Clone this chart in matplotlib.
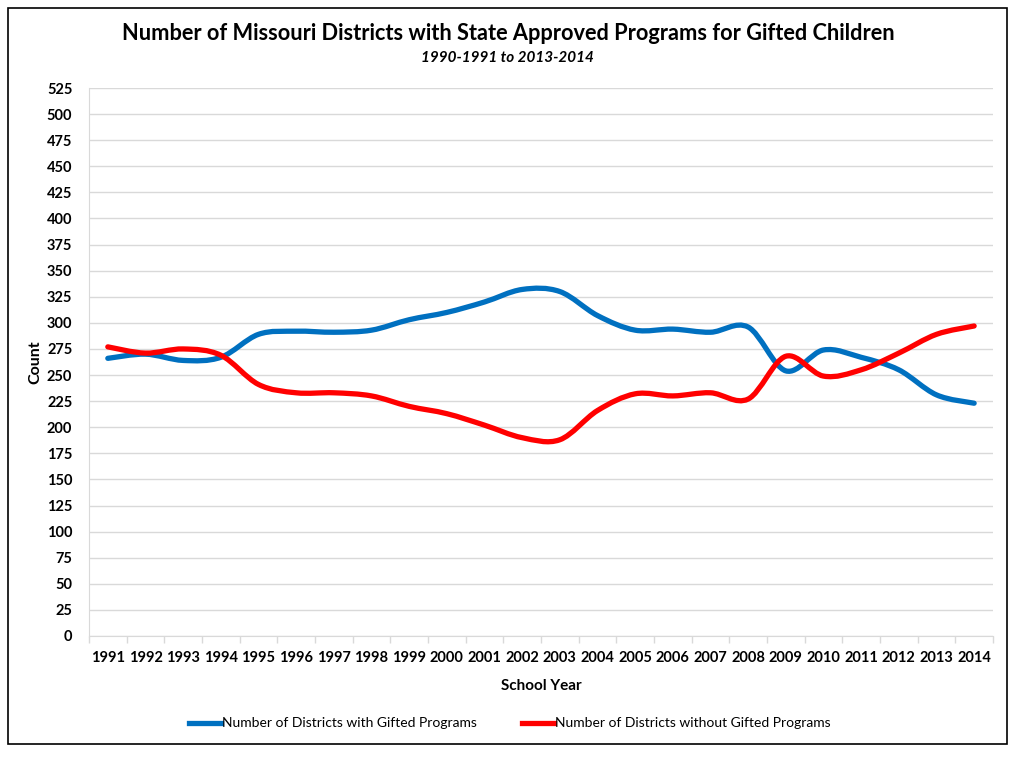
import numpy as np
import matplotlib
matplotlib.use('Agg')
import matplotlib.pyplot as plt
from matplotlib.path import Path
from matplotlib.patches import PathPatch, Rectangle
from matplotlib.lines import Line2D

# school years (end year of each school year)
years = ['1991', '1992', '1993', '1994', '1995', '1996', '1997', '1998', '1999', '2000', '2001', '2002',
         '2003', '2004', '2005', '2006', '2007', '2008', '2009', '2010', '2011', '2012', '2013', '2014']
with_gifted = [266, 270, 264, 267, 289, 292, 291, 293, 303, 310, 320, 332,
               330, 307, 293, 294, 291, 296, 254, 274, 267, 255, 231, 223]
without_gifted = [277, 271, 275, 269, 241, 233, 233, 230, 220, 213, 202, 190,
                  188, 216, 232, 230, 233, 227, 268, 249, 255, 271, 289, 297]
yticks = list(range(0, 526, 25))

plt.rcParams['font.family'] = ['Lato', 'DejaVu Sans']


def smooth_path(xs, ys):
    # excel style smoothed line: cubic bezier through every point
    xs = np.asarray(xs, float)
    ys = np.asarray(ys, float)
    n = len(xs)
    verts = [(xs[0], ys[0])]
    codes = [Path.MOVETO]
    for i in range(n - 1):
        x0, y0 = (xs[i - 1], ys[i - 1]) if i > 0 else (xs[i], ys[i])
        x3, y3 = (xs[i + 2], ys[i + 2]) if i + 2 < n else (xs[i + 1], ys[i + 1])
        c1 = (xs[i] + (xs[i + 1] - x0) / 6, ys[i] + (ys[i + 1] - y0) / 6)
        c2 = (xs[i + 1] - (x3 - xs[i]) / 6, ys[i + 1] - (y3 - ys[i]) / 6)
        verts += [c1, c2, (xs[i + 1], ys[i + 1])]
        codes += [Path.CURVE4] * 3
    return Path(verts, codes)


fig = plt.figure(figsize=(10.24, 7.68), dpi=100)
ax = fig.add_axes([0.0869, 0.1719, 0.8828, 0.7135])

xpos = np.arange(len(years))
blue = '#0070C0'
red = '#FF0000'
for vals, col in [(with_gifted, blue), (without_gifted, red)]:
    ax.add_patch(PathPatch(smooth_path(xpos, vals), fill=False, edgecolor=col, lw=3.8,
                           capstyle='round', joinstyle='round', zorder=3))

ax.set_xlim(-0.5, len(years) - 0.5)
ax.set_ylim(0, 525)
ax.set_yticks(yticks)
ax.set_yticklabels([str(t) for t in yticks], fontweight='bold', fontsize=10.5)
ax.tick_params(axis='y', length=0, pad=12)
ax.set_xticks(xpos)
ax.set_xticklabels(years, fontweight='bold', fontsize=10.5)
ax.set_xticks(np.arange(-0.5, len(years), 1), minor=True)
ax.tick_params(axis='x', which='major', length=0, pad=11)
ax.tick_params(axis='x', which='minor', length=5, color='#d9d9d9', width=1)
ax.grid(axis='y', color='#d9d9d9', lw=1)
ax.set_axisbelow(True)
for s in ['top', 'right']:
    ax.spines[s].set_visible(False)
ax.spines['left'].set_color('#d9d9d9')
ax.spines['bottom'].set_color('#d9d9d9')

ax.set_ylabel('Count', fontweight='bold', fontsize=11.5, labelpad=3)
ax.set_xlabel('School Year', fontweight='bold', fontsize=11, labelpad=10)

fig.text(0.496, 0.957, 'Number of Missouri Districts with State Approved Programs for Gifted Children',
         ha='center', va='center', fontweight='bold', fontsize=15.7)
fig.text(0.496, 0.924, '1990-1991 to 2013-2014', ha='center', va='center',
         fontweight='bold', style='italic', fontsize=11)

handles = [Line2D([], [], color=blue, lw=3.8), Line2D([], [], color=red, lw=3.8)]
fig.legend(handles, ['Number of Districts with Gifted Programs', 'Number of Districts without Gifted Programs'],
           loc='center', bbox_to_anchor=(0.498, 0.058), ncol=2, frameon=False, fontsize=10,
           handlelength=2.3, handletextpad=0.1, columnspacing=3.2)

fig.patches.append(Rectangle((8 / 1024, 1 - 744 / 768), 999 / 1024, 736 / 768, transform=fig.transFigure,
                             fill=False, edgecolor='black', lw=1.2))

fig.savefig('out.png', dpi=100, facecolor='white')
